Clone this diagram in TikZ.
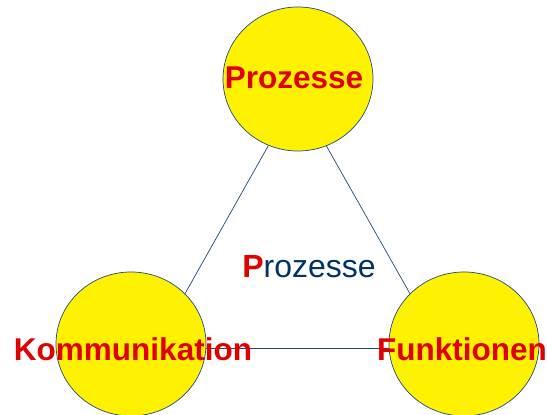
\documentclass[tikz,border=0pt]{standalone}
\usepackage{fontspec}
\setmainfont{Liberation Sans}
\usetikzlibrary{shapes.geometric}
\definecolor{kreisrand}{RGB}{31,73,125}
\definecolor{textrot}{RGB}{224,0,0}
\definecolor{textblau}{RGB}{0,51,102}
\begin{document}
\begin{tikzpicture}[x=1pt,y=1pt,
    kreis/.style={ellipse, draw=kreisrand, fill=yellow, line width=0.7pt,
        minimum width=150pt, minimum height=144pt, inner sep=0pt},
    titel/.style={text=textrot, font=\fontsize{31.5}{36}\selectfont\bfseries, inner sep=0pt},
    verbindung/.style={draw=kreisrand, line width=0.7pt}]
    \useasboundingbox (0,0) rectangle (547,415);

    % Drawing the circles
    \node[kreis] (proz) at (298,336) {};
    \node[kreis] (komm) at (131,71) {};
    \node[kreis] (funk) at (464,71) {};

    % Connecting lines
    \draw[verbindung] (proz.246) -- (komm.43);
    \draw[verbindung] (proz.293) -- (funk.137);
    \draw[verbindung] (komm.-3) -- (funk.183);

    % Adding labels
    \node[titel] (prozlabel) at (294,337) {Prozesse};
    \node[titel] (kommlabel) at (133,66) {Kommunikation};
    \node[titel] (funklabel) at (462,66) {Funktionen};
    \node[inner sep=0pt, font=\fontsize{32}{36}\selectfont] (mitte) at (309,148)
        {\textcolor{textrot}{\bfseries P}\textcolor{textblau}{rozesse}};
\end{tikzpicture}
\end{document}
